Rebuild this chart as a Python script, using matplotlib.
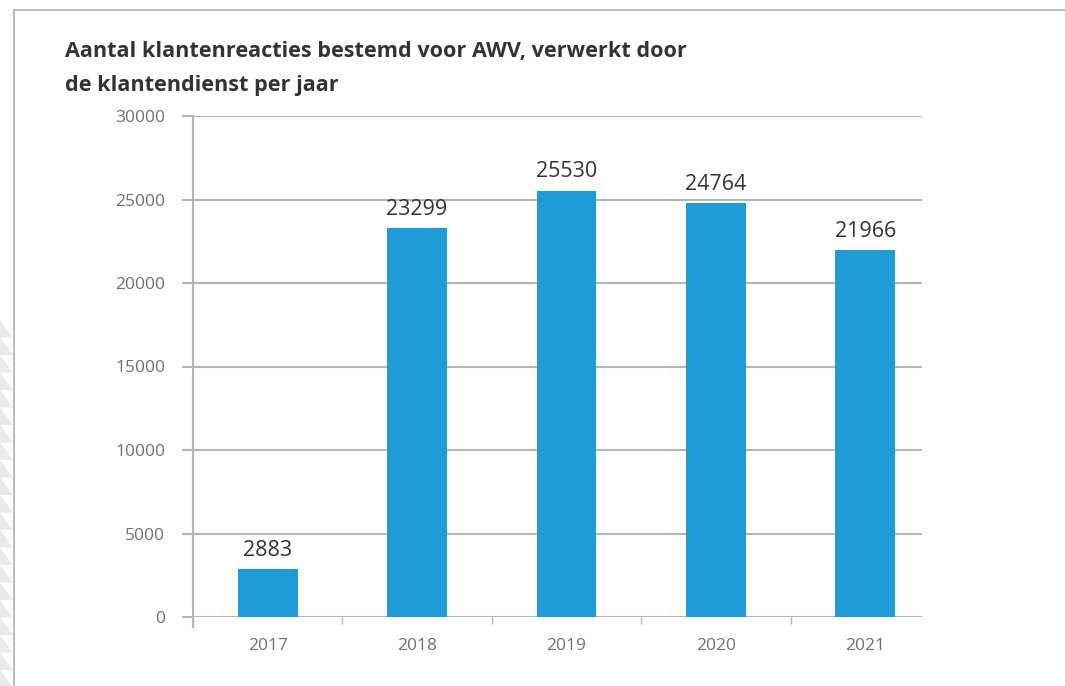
import matplotlib.pyplot as plt
from matplotlib.patches import Polygon
from matplotlib.lines import Line2D

# Gegevens: klantenreacties per jaar
jaren = ['2017', '2018', '2019', '2020', '2021']
aantallen = [2883, 23299, 25530, 24764, 21966]
y_ticks = [0, 5000, 10000, 15000, 20000, 25000, 30000]

titel = 'Aantal klantenreacties bestemd voor AWV, verwerkt door\nde klantendienst per jaar'

W, H = 1065, 686
fig = plt.figure(figsize=(W / 100, H / 100), dpi=100)
fig.patch.set_facecolor('white')

# kader rond de grafiek
fig.add_artist(Line2D([14 / W, 1], [1 - 10 / H, 1 - 10 / H], color='#bdbdbd', lw=1.5))
fig.add_artist(Line2D([14 / W, 14 / W], [0, 1 - 10 / H], color='#bdbdbd', lw=1.5))

# gestreepte rand links
periode = 17.5
y = 320
while y < H:
    pts = [(0, 1 - y / H), (13 / W, 1 - (y + periode) / H), (0, 1 - (y + periode) / H)]
    fig.add_artist(Polygon(pts, closed=True, facecolor='#e9e9e9', edgecolor='none'))
    y += periode

# titel
fig.text(65 / W, 1 - 41 / H, titel, ha='left', va='top', fontsize=15.6,
         fontweight='bold', color='#333333', family='Open Sans', linespacing=1.8)

ax = fig.add_axes([193 / W, 1 - 617 / H, (922 - 193) / W, (617 - 116) / H])
x = list(range(len(jaren)))
bars = ax.bar(x, aantallen, width=0.4, color='#1f9bd7', zorder=3)

for xi, v in zip(x, aantallen):
    ax.annotate(str(v), (xi, v), xytext=(0, 6), textcoords='offset points',
                ha='center', va='bottom', fontsize=15.5, color='#333333',
                family='Open Sans')

ax.set_xlim(-0.5, 4.38)
ax.set_ylim(0, 30000)
ax.set_yticks(y_ticks)
ax.set_yticklabels([str(t) for t in y_ticks])
ax.yaxis.grid(True, color='#b5b5b5', lw=1.5, zorder=0)
ax.set_xticks(x)
ax.set_xticklabels(jaren)
ax.set_xticks([i + 0.5 for i in range(-1, 4)], minor=True)

for s in ['top', 'right', 'bottom']:
    ax.spines[s].set_visible(False)
ax.spines['left'].set_color('#b5b5b5')
ax.spines['left'].set_linewidth(1.5)
ax.spines['left'].set_bounds(-600, 30000)

ax.tick_params(axis='y', length=8, width=1.5, color='#b5b5b5', pad=12,
               labelsize=12.5, labelcolor='#707070')
ax.tick_params(axis='x', which='major', length=0, pad=15,
               labelsize=12.5, labelcolor='#707070')
ax.tick_params(axis='x', which='minor', length=5, width=1, color='#b5b5b5')
for lbl in ax.get_xticklabels() + ax.get_yticklabels():
    lbl.set_family('Open Sans')

fig.savefig('out.png', dpi=100)
